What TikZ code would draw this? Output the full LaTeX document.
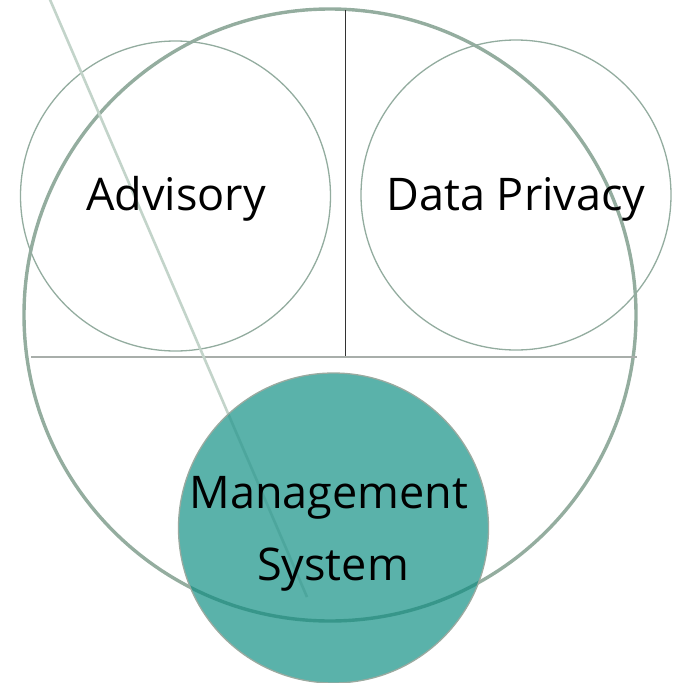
\documentclass[tikz,border=0pt]{standalone}
\usepackage{fontspec}
\setmainfont{Open Sans}
\definecolor{ringgreen}{HTML}{94AD9F}
\definecolor{thinring}{HTML}{93AC9F}
\definecolor{diag}{HTML}{C3D4CA}
\definecolor{tealfill}{HTML}{5AB2AA}
\definecolor{tealdark}{HTML}{37968A}
\definecolor{tealdiag}{HTML}{4DA69D}
\definecolor{tealedge}{HTML}{9AAAA0}
\definecolor{hline}{HTML}{A8AEAA}
\definecolor{vline}{HTML}{333333}
\tikzset{
  ring/.style={draw=thinring, line width=1.3pt},
  bigring/.style={draw=ringgreen, line width=3.4pt},
  label/.style={font=\fontsize{45}{70}\selectfont, text=black, anchor=base, inner sep=0pt, align=center},
}
\begin{document}
\begin{tikzpicture}[x=1pt,y=-1pt]
\useasboundingbox (0,0) rectangle (674,683);
% coordinates
\coordinate (bigc) at (330,315);
\coordinate (advc) at (175.5,196);
\coordinate (dpc) at (516,195);
\coordinate (msc) at (333.5,528);
\coordinate (vtop) at (345.5,10);
\coordinate (vbot) at (345.5,357);
\coordinate (hl) at (31,357);
\coordinate (hr) at (637,357);
\coordinate (dtop) at (48,-5);
\coordinate (dbot) at (307,597);
% outer lines
\draw[bigring] (bigc) circle[radius=306pt];
\draw[vline, line width=1pt] (vtop) -- (vbot);
\draw[hline, line width=1.3pt] (hl) -- (hr);
\draw[ring] (advc) circle[radius=155pt];
\draw[ring] (dpc) circle[radius=155pt];
\draw[diag, line width=2.6pt] (dtop) -- (dbot);
% teal circle
\fill[tealfill] (msc) circle[radius=155pt];
\begin{scope}
\clip (msc) circle[radius=155pt];
\draw[draw=tealdark, line width=3.4pt] (bigc) circle[radius=306pt];
\draw[tealdiag, line width=2.6pt] (dtop) -- (dbot);
\end{scope}
\draw[tealedge, line width=1.3pt] (msc) circle[radius=155pt];
% labels
\node[label] (adv) at (176,210) {Advisory};
\node[label] (dp) at (516,210) {Data Privacy};
\node[label] (ms1) at (329,508) {Management};
\node[label] (ms2) at (333,580) {System};
\end{tikzpicture}
\end{document}
